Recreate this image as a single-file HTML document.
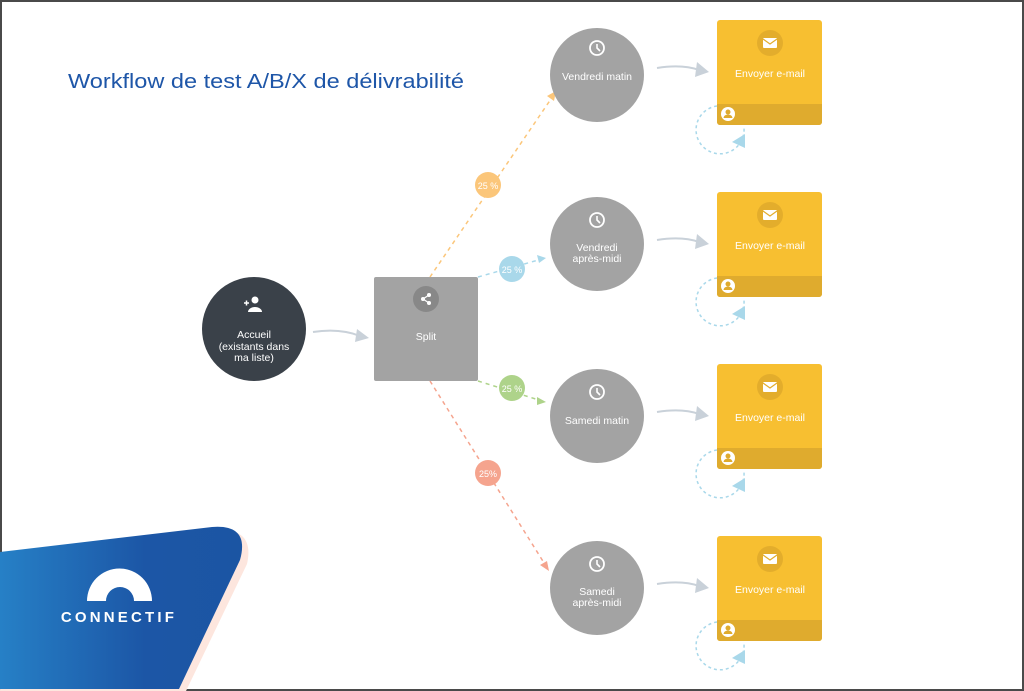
<!DOCTYPE html>
<html><head><meta charset="utf-8"><style>
html,body{margin:0;padding:0;background:#fff;}
svg{display:block;}
text{font-family:"Liberation Sans",sans-serif;}
</style></head><body>
<svg width="1024" height="691" viewBox="0 0 1024 691" xmlns="http://www.w3.org/2000/svg">
<defs>
<linearGradient id="bg" x1="0" y1="0" x2="1" y2="0">
<stop offset="0" stop-color="#2680c6"/><stop offset="0.6" stop-color="#1c56a6"/><stop offset="1" stop-color="#1b55a3"/>
</linearGradient>
<g id="clock"><circle cx="0" cy="0" r="7" fill="none" stroke="#fff" stroke-width="1.8"/><path d="M0,-4 V0 L3,3" fill="none" stroke="#fff" stroke-width="1.6"/></g>
<g id="email">
<rect x="0" y="0" width="105" height="105" rx="3" fill="#f7bf31"/>
<path d="M0,84 H105 V102 a3,3 0 0 1 -3,3 H3 a3,3 0 0 1 -3,-3 Z" fill="#dfab2e"/>
<circle cx="53" cy="23" r="13" fill="#e3ad2c"/>
<rect x="46" y="18" width="14" height="10" rx="1" fill="#fff"/>
<path d="M46,19 L53,24 L60,19" fill="none" stroke="#e3ad2c" stroke-width="1.2"/>
<text x="53" y="57" font-size="10.5" fill="#fff" text-anchor="middle">Envoyer e-mail</text>
<circle cx="11" cy="94" r="7" fill="#fff"/>
<circle cx="11" cy="92" r="2.5" fill="#dfab2e"/>
<path d="M6.5,98 a4.5,3.5 0 0 1 9,0 Z" fill="#dfab2e"/>
<path d="M0,86 A24,24 0 1 0 27,108" fill="none" stroke="#a9d8ea" stroke-width="1.5" stroke-dasharray="3,3"/>
<path d="M15,122 L28,114 L28,128 Z" fill="#a9d8ea"/>
<path d="M-60,48 Q-35,44 -18,50" fill="none" stroke="#c9d1d9" stroke-width="2"/>
<path d="M-20,42 L-8,52 L-22,57 Z" fill="#c9d1d9"/>
</g>
</defs>
<rect x="1" y="1" width="1022" height="689" fill="#fff" stroke="#4a4a4a" stroke-width="2"/>

<text x="68" y="88" font-size="20" fill="#1e56a8" textLength="396" lengthAdjust="spacingAndGlyphs">Workflow de test A/B/X de délivrabilité</text>

<path d="M5,555 L217,530 Q255,528 247,564 L186,691 L0,691 Z" fill="#fde6de"/>
<path d="M0,552 L212,527 Q250,524 240,560 L179,689 L0,689 Z" fill="url(#bg)"/>
<path d="M87,601 A32,32 0 0 1 152,601 L134,601 A14,14 0 0 0 106,601 Z" fill="#fff"/>
<text x="119" y="622" font-size="15" font-weight="bold" fill="#fff" text-anchor="middle" letter-spacing="3.2">CONNECTIF</text>

<line x1="430" y1="277" x2="553" y2="96" stroke="#fbc67a" stroke-width="1.5" stroke-dasharray="4,4"/>
<path d="M556,91 L547,96 L554,101 Z" fill="#fbc67a"/>
<line x1="478" y1="277" x2="542" y2="259" stroke="#a9d8ea" stroke-width="1.5" stroke-dasharray="4,4"/>
<path d="M546,258 L537,255 L539,263 Z" fill="#a9d8ea"/>
<line x1="478" y1="381" x2="542" y2="401" stroke="#aed38a" stroke-width="1.5" stroke-dasharray="4,4"/>
<path d="M546,402 L537,397 L537,405 Z" fill="#aed38a"/>
<line x1="430" y1="381" x2="546" y2="566" stroke="#f5a48e" stroke-width="1.5" stroke-dasharray="4,4"/>
<path d="M549,571 L540,565 L547,561 Z" fill="#f5a48e"/>

<circle cx="488" cy="185" r="13" fill="#fbc67a"/><text x="488" y="189" font-size="9" fill="#fff" text-anchor="middle">25 %</text>
<circle cx="512" cy="269" r="13" fill="#a9d8ea"/><text x="512" y="273" font-size="9" fill="#fff" text-anchor="middle">25 %</text>
<circle cx="512" cy="388" r="13" fill="#aed38a"/><text x="512" y="392" font-size="9" fill="#fff" text-anchor="middle">25 %</text>
<circle cx="488" cy="473" r="13" fill="#f5a48e"/><text x="488" y="477" font-size="9" fill="#fff" text-anchor="middle">25%</text>

<circle cx="254" cy="329" r="52" fill="#3a4149"/>
<circle cx="255" cy="300" r="3.5" fill="#fff"/>
<path d="M248,312 a7,5 0 0 1 14,0 Z" fill="#fff"/>
<path d="M244,303 h5 M246.5,300.5 v5" stroke="#fff" stroke-width="1.5"/>
<text x="254" y="338" font-size="10.5" fill="#fff" text-anchor="middle">Accueil</text>
<text x="254" y="350" font-size="10.5" fill="#fff" text-anchor="middle">(existants dans</text>
<text x="254" y="361" font-size="10.5" fill="#fff" text-anchor="middle">ma liste)</text>
<path d="M313,332 Q340,328 360,336" fill="none" stroke="#c9d1d9" stroke-width="2"/>
<path d="M357,329 L369,338 L355,342 Z" fill="#c9d1d9"/>

<rect x="374" y="277" width="104" height="104" rx="2" fill="#a3a3a3"/>
<circle cx="426" cy="299" r="13" fill="#888"/>
<circle cx="423" cy="299" r="2" fill="#fff"/><circle cx="429" cy="295" r="2" fill="#fff"/><circle cx="429" cy="303" r="2" fill="#fff"/>
<path d="M423,299 L429,295 M423,299 L429,303" stroke="#fff" stroke-width="1.2"/>
<text x="426" y="340" font-size="10.5" fill="#fff" text-anchor="middle">Split</text>

<circle cx="597" cy="75" r="47" fill="#a3a3a3"/><use href="#clock" x="597" y="48"/>
<text x="597" y="80" font-size="10.5" fill="#fff" text-anchor="middle">Vendredi matin</text>
<circle cx="597" cy="244" r="47" fill="#a3a3a3"/><use href="#clock" x="597" y="220"/>
<text x="597" y="251" font-size="10.5" fill="#fff" text-anchor="middle">Vendredi</text>
<text x="597" y="262" font-size="10.5" fill="#fff" text-anchor="middle">après-midi</text>
<circle cx="597" cy="416" r="47" fill="#a3a3a3"/><use href="#clock" x="597" y="392"/>
<text x="597" y="424" font-size="10.5" fill="#fff" text-anchor="middle">Samedi matin</text>
<circle cx="597" cy="588" r="47" fill="#a3a3a3"/><use href="#clock" x="597" y="564"/>
<text x="597" y="595" font-size="10.5" fill="#fff" text-anchor="middle">Samedi</text>
<text x="597" y="606" font-size="10.5" fill="#fff" text-anchor="middle">après-midi</text>

<use href="#email" x="717" y="20"/>
<use href="#email" x="717" y="192"/>
<use href="#email" x="717" y="364"/>
<use href="#email" x="717" y="536"/>
</svg>
</body></html>
